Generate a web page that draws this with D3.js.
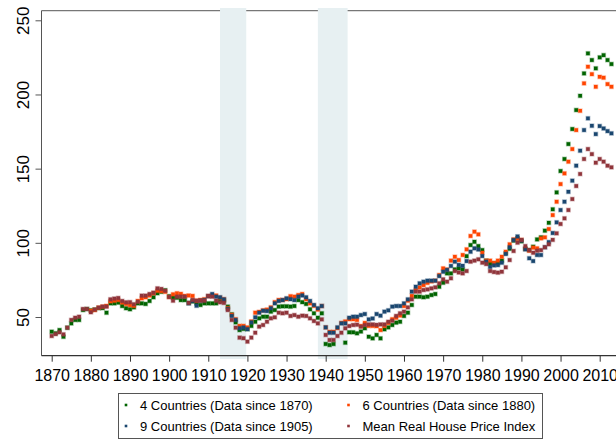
<!DOCTYPE html>
<html>
<head>
<meta charset="utf-8">
<script src="https://cdn.jsdelivr.net/npm/d3@7"></script>
<style>
  body { margin: 0; background: #fff; }
  svg { display: block; font-family: "Liberation Sans", Arial, sans-serif; }
</style>
</head>
<body>
<svg id="chart" width="616" height="440"></svg>
<script>
// series values, one per year
var green4 = [ // 4 countries, from 1870
  40.1, 39, 41.2, 36.7, 42.8, 45.7, 48, 48, 54.7, 55.4,
  54.5, 55, 56, 56, 52.9, 59.2, 59.2, 59.7, 57.4, 55.9,
  55.2, 56.5, 59.2, 59.2, 58.8, 60.8, 63.3, 66, 67, 68,
  64, 63, 63, 61.4, 61.4, 59.5, 60.5, 59.2, 58.1, 59.2,
  59.2, 59.2, 59.2, 61, 61, 57, 51.8, 46.4, 41.2, 42,
  41.8, 44, 46.8, 49.1, 50.2, 50.2, 53.6, 54.7, 57, 57.2,
  57.2, 57, 57.4, 61.4, 60, 58.8, 55.2, 52.5, 49.5, 52.5,
  31.8, 31.1, 31.8, null, null, 32.7, 39.7, 39.7, 39, 40.2,
  42.4, 36.7, 35.6, 37.9, 35.6, 41.7, 43, 44.6, 46.2, 46.8,
  50.7, 52.9, 58.1, 63.7, 63.7, 63.3, 63.7, 64.8, 65.5, 70.4,
  73.1, 79.4, 79.4, 82.1, 82.8, 82, 91, 98.5, 100.7, 97.8,
  95.1, 88, 86, 86.2, 86.5, 88, 93, 96, 101.5, 103,
  101, 96, 95.1, 97.4, 102.3, 103.7, 108.2, 113.5, 122.6, 134,
  148.4, 156.5, 166.6, 176.7, 189.5, 199.1, 214.2, 227.7, 223.2, 217.6,
  225, 226.5, 223.2, 220.5
];
var orange6 = [ // 6 countries, from 1880
  54.2, 54.7, 56.3, 57, 57.5, 60.6, 61, 61.5, 59.8, 58.8,
  58, 57.5, 60.8, 62.6, 63.3, 64.5, 66, 67.7, 67.5, 67,
  63.5, 65.3, 66, 65.6, 64.2, 64.5, 64.2, 61, 61.5, 62,
  64, 64.5, 64.5, 63, 62, 56, 51.5, 48.5, 44, 44,
  43, 47, 52.9, 53.5, 54.5, 55, 56.5, 60, 61.5, 61.5,
  62, 64, 63.7, 64.8, 65.5, 62, 59.2, 57.5, 55, 57.4,
  43, 40, 40, 42.5, 46, 47, 48.5, 48.5, 48, 43.9,
  46, 44, 44, 43.8, 41.2, 44, 46, 48.5, 49.5, 51,
  57.4, 61, 64.2, 68.2, 70, 71.5, 73, 74, 74.5, 78.3,
  82.8, 82, 88, 90.6, 88.4, 91.8, 95.6, 104.6, 107.5, 105.7,
  93.3, 88, 88, 86.5, 88, 90.6, 94, 99, 102.3, 102.8,
  102, 96, 94.7, 96.8, 96.3, 103, 103.7, 109.3, 118.7, 127.7,
  139.6, 146.8, 154.7, 163.2, 176, 189, 207.5, 218.7, 213.7, 205.2,
  211.9, 211.3, 207, 205.2
];
var blue9 = [ // 9 countries, from 1905
  59.2, 60.8, 57.6, 61, 61.4,
  64, 65.5, 63.7, 63.3, 61.9, 55.4, 50.7, 48, 42.4, 42.9,
  41.8, 46.4, 49.8, 52.9, 54.2, 54, 55.9, 59.2, 60.8, 61.4,
  62.6, 62, 61.4, 63.7, 64.5, 63.3, 60.8, 58.1, 55.9, 57.4,
  43, 39.4, 39.4, 43, 45.7, 45.7, 49.5, 50.2, 50.2, 51.3,
  52, 48.4, 49, 52, 50.9, 53.6, 54.5, 57, 57.4, 57.4,
  59.2, 61.9, 67.1, 70.4, 72.7, 73.8, 74.5, 74.5, 74.5, 77.6,
  80.5, 81.7, 84.4, 87.3, 85.1, 84.5, 87.7, 94, 96.3, 95.5,
  91.1, 87.3, 83.8, 84.8, 85, 86.6, 92.5, 97, 101.9, 104.3,
  101.5, 95.6, 89.6, 87.7, 91.8, 91.8, 97, 100.5, 106.6, 113.8,
  122.1, 127.7, 134.4, 141.9, 152, 162.1, 176, 183.9, 178.9, 173.3,
  178.7, 177.1, 175.3, 173.8
];
var meanIdx = [ // mean real house price index, from 1870
  37.2, 38.5, 39.7, 38.3, 42.8, 48, 49.5, 50.2, 55.4, 55.4,
  53.2, 55, 56.3, 57, 57, 61.9, 62.4, 62.8, 60.8, 59.9,
  60, 58.6, 60.3, 64.4, 64.4, 65.5, 66.4, 69.3, 68.9, 67.7,
  63.5, 61, 63.7, 63.7, 63.7, 59.5, 61.5, 61, 61, 61,
  64.2, 63.7, 61, 59.9, 59.5, 54.7, 48, 42.8, 36.1, 35.7,
  33.4, 36.1, 39.4, 43.5, 44.6, 46.8, 49.1, 49.8, 52.9, 52.5,
  52.9, 50.7, 51.3, 50.2, 50.9, 50.7, 49.1, 47.3, 45.7, 48.4,
  37.9, 34.5, 34.5, 37.2, 39.4, 42.4, 43.9, 44.6, 44.8, 43.5,
  44.6, 45, 45, 44.7, 45, 45, 46.8, 47.5, 50.7, 52.5,
  53.6, 56.5, 61.9, 67.1, 67.1, 68.2, 68.6, 69.3, 70, 72.7,
  75.4, 73.8, 76.1, 81, 80, 79.4, 81, 87.3, 88, 88.9,
  86.6, 85.7, 81, 80.3, 79.9, 80.5, 83.5, 88.4, 94.5, 100.1,
  101.9, 97.8, 95.1, 93.3, 94.7, 95.1, 97, 99, 102, 106.4,
  112.7, 116.5, 122.1, 129.5, 138.3, 146.4, 156.5, 163.2, 159.8, 154,
  156.5, 154.7, 152, 150.9
];

var xTicks = [1870, 1880, 1890, 1900, 1910, 1920, 1930, 1940, 1950, 1960, 1970, 1980, 1990, 2000, 2010];
var yTicks = [50, 100, 150, 200, 250];
var warBands = [[1913, 1919.7], [1938, 1945.6]];

var series = [
  {name: "4 Countries (Data since 1870)", start: 1870, values: green4, color: "#006400"},
  {name: "6 Countries (Data since 1880)", start: 1880, values: orange6, color: "#ff4500"},
  {name: "9 Countries (Data since 1905)", start: 1905, values: blue9, color: "#1a476f"},
  {name: "Mean Real House Price Index", start: 1870, values: meanIdx, color: "#90353b"}
];

var svg = d3.select("#chart");

var x = d3.scaleLinear().domain([1870, 2010]).range([51.7, 599.7]);
var y = d3.scaleLinear().domain([50, 250]).range([317, 20.3]);

var plotLeft = 41.5, plotTop = 10.7, plotBottom = 355.7, plotRight = 640;

// top border
svg.append("line")
  .attr("x1", plotLeft).attr("x2", plotRight)
  .attr("y1", plotTop).attr("y2", plotTop)
  .attr("stroke", "#777").attr("stroke-width", 1.2);

// shaded war periods
svg.selectAll("rect.band")
  .data(warBands)
  .enter().append("rect")
  .attr("class", "band")
  .attr("x", function(d) { return x(d[0]); })
  .attr("width", function(d) { return x(d[1]) - x(d[0]); })
  .attr("y", 8)
  .attr("height", 359 - 8)
  .attr("fill", "#e7f0f2");

// y axis
var yAxis = svg.append("g")
  .attr("transform", "translate(" + plotLeft + ",0)")
  .call(d3.axisLeft(y).tickValues(yTicks).tickSize(6).tickFormat(d3.format("d")));
yAxis.select(".domain").attr("d", "M0," + plotTop + "V" + plotBottom).attr("stroke", "#555");
yAxis.selectAll(".tick line").attr("stroke", "#555");
yAxis.selectAll(".tick text")
  .attr("x", 0).attr("dy", 0)
  .attr("transform", "translate(-13,0) rotate(-90)")
  .attr("text-anchor", "middle")
  .style("font-size", "17px")
  .attr("fill", "#000");

// x axis
var xAxis = svg.append("g")
  .attr("transform", "translate(0," + plotBottom + ")")
  .call(d3.axisBottom(x).tickValues(xTicks).tickSize(6).tickFormat(d3.format("d")));
xAxis.select(".domain").attr("d", "M" + plotLeft + ",0H" + plotRight).attr("stroke", "#333").attr("stroke-width", 1.3);
xAxis.selectAll(".tick line").attr("stroke", "#333");
xAxis.selectAll(".tick text")
  .attr("y", 14).attr("dy", "0.71em")
  .style("font-size", "16px")
  .attr("fill", "#000");

// points
var ms = 3.6;
series.forEach(function(s) {
  var pts = s.values.map(function(v, i) { return {year: s.start + i, v: v}; })
                    .filter(function(d) { return d.v != null; });
  svg.append("g").selectAll("rect")
    .data(pts)
    .enter().append("rect")
    .attr("x", function(d) { return x(d.year) - ms / 2; })
    .attr("y", function(d) { return y(d.v) - ms / 2; })
    .attr("width", ms)
    .attr("height", ms)
    .attr("fill", s.color)
    .attr("stroke", s.color)
    .attr("stroke-opacity", 0.3)
    .attr("stroke-width", 1.4);
});

// legend
var legend = svg.append("g");
legend.append("rect")
  .attr("x", 118.5).attr("y", 393.5)
  .attr("width", 424).attr("height", 45)
  .attr("fill", "#fff").attr("stroke", "#555").attr("stroke-width", 1);

var lx = [126, 348.5], ly = [405, 426];
series.forEach(function(s, i) {
  var col = i % 2, row = Math.floor(i / 2);
  legend.append("rect")
    .attr("x", lx[col] - 1.3).attr("y", ly[row] - 1.3)
    .attr("width", 2.6).attr("height", 2.6)
    .attr("fill", s.color);
  legend.append("text")
    .attr("x", lx[col] + 14).attr("y", ly[row] + 4.6)
    .style("font-size", "13px")
    .text(s.name);
});
</script>
</body>
</html>
